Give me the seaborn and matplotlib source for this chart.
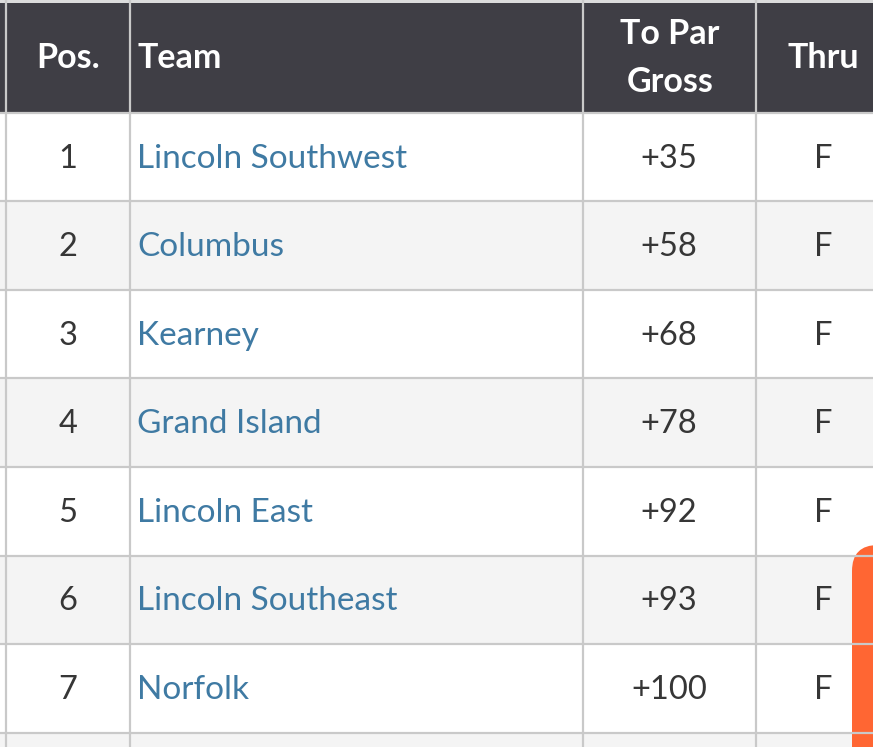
import numpy as np
import matplotlib
matplotlib.use("Agg")
import matplotlib.pyplot as plt
from matplotlib.patches import FancyBboxPatch
import seaborn as sns

# ---------------------------------------------------------------------------
# Data
# ---------------------------------------------------------------------------
positions = [1, 2, 3, 4, 5, 6, 7]
teams = ["Lincoln Southwest", "Columbus", "Kearney", "Grand Island",
         "Lincoln East", "Lincoln Southeast", "Norfolk"]
to_par = [35, 58, 68, 78, 92, 93, 100]
thru = ["F", "F", "F", "F", "F", "F", "F"]

# layout in image pixels
W, H = 873, 747
HEAD_TOP, HEAD_BOT = 3, 112.5
ROW_H = 88.6
COL_LINES = [6, 130, 583, 756]
FONT = "Lato"
SIZE = 23.5

DARK = "#3f3e45"
GRID = "#c9c9c9"
TEXT = "#363636"
LINK = "#3f7aa3"
ORANGE = "#ff6633"

sns.set_theme(style="white")
plt.rcParams["font.family"] = [FONT, "DejaVu Sans"]

fig = plt.figure(figsize=(W / 100, H / 100), dpi=100, facecolor="white")

# --- zebra rows, drawn as a one column heatmap ---
body = fig.add_axes([0, 0, 1, (H - HEAD_BOT) / H])
shade = np.array([[i % 2] for i in range(len(teams) + 1)])
sns.heatmap(shade, ax=body, cbar=False, cmap=["#ffffff", "#f4f4f4"],
            vmin=0, vmax=1, xticklabels=False, yticklabels=False)
body.set_ylim((H - HEAD_BOT) / ROW_H, 0)

# --- overlay in pixel coordinates for lines and text ---
ax = fig.add_axes([0, 0, 1, 1], facecolor="none")
ax.set_xlim(0, W)
ax.set_ylim(H, 0)
ax.axis("off")

ax.axhspan(0, HEAD_TOP, color="#dcdcdc", lw=0)
ax.axhspan(HEAD_TOP, HEAD_BOT, color=DARK, lw=0)

for x in COL_LINES:
    ax.axvline(x, color=GRID, lw=1.6)
for i in range(len(teams) + 1):
    ax.axhline(HEAD_BOT + i * ROW_H, color=GRID, lw=1.6)

# header
head = dict(color="white", fontsize=24.5, fontweight="bold", va="baseline")
ax.text(68, 68, "Pos.", ha="center", **head)
ax.text(137.5, 68, "Team", ha="left", **head)
ax.text(670, 44, "To Par", ha="center", **head)
ax.text(670, 92, "Gross", ha="center", **head)
ax.text(823.5, 68, "Thru", ha="center", **head)

# rows
for i, (pos, team, par, th) in enumerate(zip(positions, teams, to_par, thru)):
    base = HEAD_BOT + i * ROW_H + 55
    cell = dict(color=TEXT, fontsize=SIZE, va="baseline", ha="center")
    ax.text(68, base, str(pos), **cell)
    ax.text(137, base, team, color=LINK, fontsize=24, va="baseline", ha="left")
    ax.text(669, base, f"+{par}", **cell)
    ax.text(823, base, th, **cell)

# orange floating button, cut off by the image edge
ax.add_patch(FancyBboxPatch((852, 545), 100, 300,
                            boxstyle="round,pad=0,rounding_size=26",
                            fc=ORANGE, ec="none"))

fig.savefig("out.png", dpi=100)
